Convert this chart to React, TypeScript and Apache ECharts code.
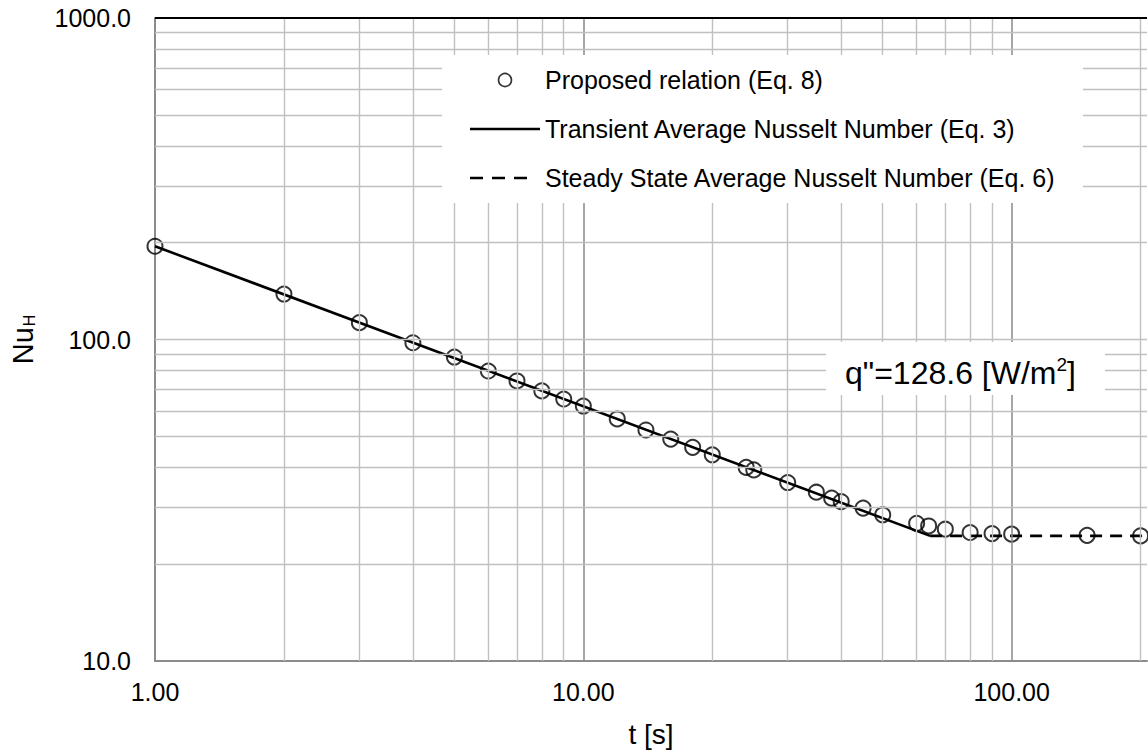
import React, { useEffect, useRef } from 'react';
import * as echarts from 'echarts';

// ---- data ----
const timeS = [1, 2, 3, 4, 5, 6, 7, 8, 9, 10, 12, 14, 16, 18, 20, 24, 25, 30, 35, 38, 40, 45, 50, 60, 64, 70, 80, 90, 100, 150, 200];
const nuProposed = [195, 138.5, 112.8, 97.7, 88.2, 79.8, 74.3, 69.2, 65.3, 62.1, 56.6, 52.3, 49.0, 46.2, 43.8, 40.0, 39.3, 35.9, 33.5, 32.1, 31.3, 29.9, 28.5, 26.8, 26.3, 25.7, 25.1, 24.9, 24.8, 24.6, 24.5];
const transientT = [1, 64.5];
const transientNu = [195, 24.5];
const steadyT = [64.5, 207];
const steadyNu = [24.5, 24.5];

const seriesNames = [
  'Proposed relation (Eq. 8)',
  'Transient Average Nusselt Number (Eq. 3)',
  'Steady State Average Nusselt Number (Eq. 6)',
];

const xMin = 1;
const xMax = 207;
const yMin = 10;
const yMax = 1000;

const xMinorGrid = [2, 3, 4, 5, 6, 7, 8, 9, 20, 30, 40, 50, 60, 70, 80, 90, 200];
const xMajorGrid = [10, 100];
const yGrid = [20, 30, 40, 50, 60, 70, 80, 90, 100, 200, 300, 400, 500, 600, 700, 800, 900];
const yTop = [1000];

const annotationText = '{n|q"=128.6 [W/m}{s|2}{n|]}';

// legend icons (solid line and three dashes), drawn in a 70-wide box
const solidIcon = 'path://M0,0L70,0L70,2.6L0,2.6Z';
const dashIcon = 'path://M0,0h13v2.6h-13z M22,0h13v2.6h-13z M44,0h13v2.6h-13z M70,0L70,0.01L69.99,0.01Z';

const FONT = '"Liberation Sans", Arial, Helvetica, sans-serif';
const TEXT = '#000';

export default function App() {
  const ref = useRef<HTMLDivElement>(null);

  useEffect(() => {
    if (!ref.current) return;
    const chart = echarts.init(ref.current, undefined, { renderer: 'svg' });

    const isDecade = (v: number) => Math.abs(Math.log10(v) - Math.round(Math.log10(v))) < 1e-6;

    const gridLines: any[] = [
      ...xMinorGrid.map((v) => ({ xAxis: v, lineStyle: { color: '#c0c0c0', width: 1.4, type: 'solid' } })),
      ...xMajorGrid.map((v) => ({ xAxis: v, lineStyle: { color: '#898989', width: 1.5, type: 'solid' } })),
      ...yGrid.map((v) => ({ yAxis: v, lineStyle: { color: '#c0c0c0', width: 1.4, type: 'solid' } })),
      ...yTop.map((v) => ({ yAxis: v, lineStyle: { color: '#000', width: 2, type: 'solid' } })),
    ];

    chart.setOption({
      animation: false,
      backgroundColor: '#fff',
      textStyle: { fontFamily: FONT },
      grid: { left: 155, right: 1, top: 18, bottom: 91, containLabel: false, outerBoundsMode: 'none' },
      legend: {
        orient: 'vertical',
        left: 442,
        top: 55,
        padding: [10, 27, 10, 28],
        backgroundColor: '#fff',
        itemWidth: 70,
        itemHeight: 13,
        itemGap: 19,
        selectedMode: false,
        textStyle: { fontSize: 25, lineHeight: 30, color: TEXT, fontFamily: FONT },
        data: [
          { name: seriesNames[0], itemStyle: { color: 'transparent', borderColor: '#000', borderWidth: 1.6 } },
          { name: seriesNames[1], icon: solidIcon, itemStyle: { color: '#000', borderWidth: 0 } },
          { name: seriesNames[2], icon: dashIcon, itemStyle: { color: '#000', borderWidth: 0 } },
        ],
        z: 6,
      },
      xAxis: {
        type: 'log',
        logBase: 10,
        min: xMin,
        max: xMax,
        axisLine: { show: true, onZero: false, lineStyle: { color: '#8c8c8c', width: 2 } },
        axisTick: { show: false },
        splitLine: { show: false },
        minorTick: { show: false },
        minorSplitLine: { show: false },
        axisLabel: {
          show: true,
          showMaxLabel: false,
          margin: 18,
          fontSize: 25,
          color: TEXT,
          fontFamily: FONT,
          formatter: (v: number) => (isDecade(v) ? v.toFixed(2) : ''),
        },
        name: 't [s]',
        nameLocation: 'middle',
        nameGap: 59,
        nameTextStyle: { fontSize: 28, color: TEXT, fontFamily: FONT },
      },
      yAxis: {
        type: 'log',
        logBase: 10,
        min: yMin,
        max: yMax,
        axisLine: { show: true, onZero: false, lineStyle: { color: '#8c8c8c', width: 2 } },
        axisTick: { show: false },
        splitLine: { show: false },
        minorTick: { show: false },
        minorSplitLine: { show: false },
        axisLabel: {
          margin: 24,
          fontSize: 25,
          color: TEXT,
          fontFamily: FONT,
          formatter: (v: number) => v.toFixed(1),
        },
        name: '{a|Nu}{b|H}',
        nameLocation: 'middle',
        nameRotate: 90,
        nameGap: 118,
        nameTextStyle: {
          color: TEXT,
          fontFamily: FONT,
          rich: {
            a: { fontSize: 29, lineHeight: 29, verticalAlign: 'top', color: TEXT, fontFamily: FONT },
            b: { fontSize: 16, lineHeight: 16, padding: [23, 0, 0, 1], verticalAlign: 'bottom', color: TEXT, fontFamily: FONT },
          },
        },
      },
      series: [
        {
          name: '_grid',
          type: 'line',
          data: [],
          silent: true,
          z: 1,
          markLine: {
            silent: true,
            symbol: ['none', 'none'],
            label: { show: false },
            emphasis: { disabled: true },
            animation: false,
            data: gridLines,
          },
        },
        {
          name: seriesNames[1],
          type: 'line',
          data: transientT.map((t, i) => [t, transientNu[i]]),
          symbol: 'none',
          lineStyle: { color: '#000', width: 2.6 },
          itemStyle: { color: '#000' },
          z: 3,
        },
        {
          name: seriesNames[2],
          type: 'line',
          data: steadyT.map((t, i) => [t, steadyNu[i]]),
          symbol: 'none',
          lineStyle: { color: '#000', width: 2.6, type: [12, 8] },
          itemStyle: { color: '#000' },
          z: 3,
        },
        {
          name: seriesNames[0],
          type: 'scatter',
          data: timeS.map((t, i) => [t, nuProposed[i]]),
          symbol: 'circle',
          symbolSize: 15,
          itemStyle: { color: 'transparent', borderColor: '#000', borderWidth: 2 },
          z: 4,
        },
      ],
      graphic: [
        {
          type: 'rect',
          shape: { x: 826, y: 342, width: 279, height: 53 },
          style: { fill: '#fff' },
          z: 10,
          silent: true,
        },
        {
          type: 'text',
          x: 845,
          y: 373,
          z: 11,
          silent: true,
          style: {
            text: annotationText,
            fill: TEXT,
            align: 'left',
            verticalAlign: 'middle',
            rich: {
              n: { fontSize: 32, lineHeight: 36, fontFamily: FONT, fill: TEXT, color: TEXT },
              s: { fontSize: 19, lineHeight: 26, verticalAlign: 'top', fontFamily: FONT, fill: TEXT, color: TEXT },
            },
          },
        },
      ],
    });

    return () => chart.dispose();
  }, []);

  return (
    <div
      ref={ref}
      style={{ position: 'fixed', left: 0, top: 0, width: 1148, height: 752, background: '#fff' }}
    />
  );
}
